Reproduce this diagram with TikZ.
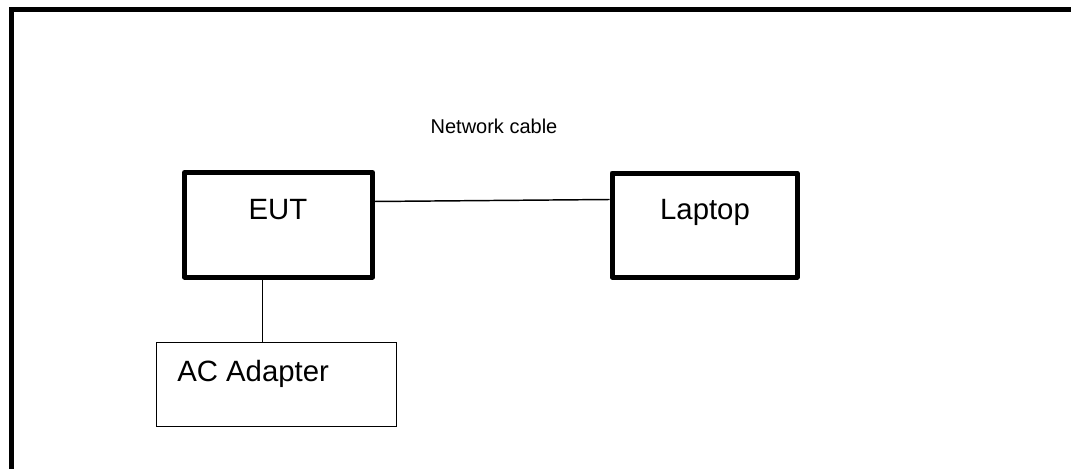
\documentclass[tikz,border=0pt]{standalone}
\usepackage{fontspec}
\setmainfont{Liberation Sans}
\usetikzlibrary{calc}
\begin{document}
\begin{tikzpicture}[x=0.75pt,y=-0.75pt,
  thickbox/.style={draw,line width=3.75pt,rectangle,inner sep=0pt,line join=round},
  thinbox/.style={draw,line width=0.9pt,rectangle,inner sep=0pt},
  lbl/.style={inner sep=0pt,font=\fontsize{22pt}{26pt}\selectfont},
  smalllbl/.style={inner sep=0pt,font=\fontsize{15pt}{18pt}\selectfont},
  cable/.style={line width=1.1pt},
  wire/.style={line width=0.9pt}]
\useasboundingbox (0,0) rectangle (1071,468);
% frame
\draw[line width=3.75pt] (11.5,470) -- (11.5,9.5) -- (1075,9.5);
% boxes
\node[thickbox,minimum width=141pt,minimum height=78.4pt] (eut) at (278.5,224.75) {};
\node[thickbox,minimum width=138.75pt,minimum height=78pt] (laptop) at (704.5,225) {};
\node[thinbox,minimum width=180pt,minimum height=63pt] (ac) at (276.7,384.7) {};
% labels
\node[lbl,anchor=base] (euttext) at (278,219.3) {EUT};
\node[lbl,anchor=base] (laptoptext) at (705,219.3) {Laptop};
\node[lbl,anchor=base west] (actext) at (177,381) {AC Adapter};
\node[smalllbl,anchor=base] (cabletext) at (494,133.3) {Network cable};
% connectors
\coordinate (c1) at ($(eut.north east)+(0,31.5)$);
\coordinate (c2) at ($(laptop.north west)+(0,29)$);
\draw[cable] (c1) -- (c2);
\coordinate (pwr) at ($(eut.south west)+(80.5,0)$);
\draw[wire] (pwr) -- (pwr |- ac.north);
\end{tikzpicture}
\end{document}
